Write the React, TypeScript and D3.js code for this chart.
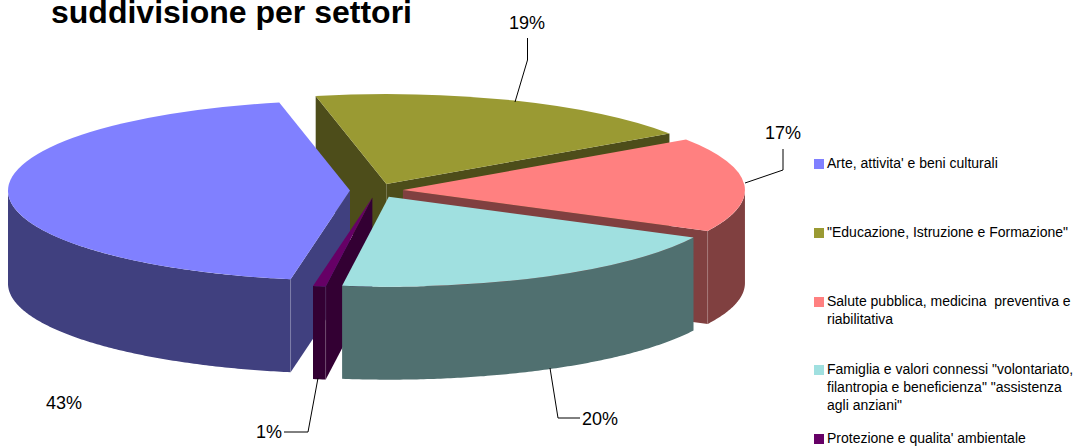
import React from 'react';
import * as d3 from 'd3';

const categories = [
  "Arte, attivita' e beni culturali",
  '"Educazione, Istruzione e Formazione"',
  'Salute pubblica, medicina  preventiva e|riabilitativa',
  'Famiglia e valori connessi "volontariato,|filantropia e beneficienza" "assistenza|agli anziani"',
  "Protezione e qualita' ambientale",
];
// shares
const shares = [43.95, 18.85, 17, 19.7, 0.6];
const percentLabels = ['43%', '19%', '17%', '20%', '1%'];
const topColors = ['#8080FF', '#9A9A33', '#FF8080', '#A0E0E0', '#660066'];
const sideColors = ['#40407F', '#4D4D1A', '#804040', '#507070', '#330033'];

const width = 1074;
const height = 447;
const cx = 376.5;
const cy = 190.5;
const rx = 342;
const ry = 90;
const depth = 93;
const explode = 26.5;
const squash = ry / rx;

// back to front
const drawOrder = [1, 2, 0, 4, 3];

const legendRows = [163, 232, 301, 369, 438];
const labelPositions: [number, number][] = [
  [64, 403],
  [527, 23],
  [783, 133],
  [600, 419],
  [269, 432],
];
const leaderLines: [number, number][][] = [
  [],
  [[515, 102], [527.5, 60], [527.5, 38]],
  [[745, 183], [783, 170], [783, 149]],
  [[550, 368], [558, 418], [580, 418]],
  [[318, 378], [308, 432], [284, 432]],
];

const pie = d3
  .pie<number>()
  .sort(null)
  .startAngle((190 * Math.PI) / 180)
  .endAngle((550 * Math.PI) / 180);

const arcs = pie(shares);
const arcPath = d3.arc<d3.PieArcDatum<number>>().innerRadius(0).outerRadius(rx);

// d3 angle: clockwise from 12 o'clock
const px = (a: number, ox: number) => ox + rx * Math.sin(a);
const py = (a: number, oy: number) => oy - ry * Math.cos(a);

const wallArea = (ox: number, oy: number) =>
  d3
    .area<number>()
    .x((a) => px(a, ox))
    .y0((a) => py(a, oy))
    .y1((a) => py(a, oy) + depth);

const linePath = d3.line();

const Slice: React.FC<{ index: number }> = ({ index }) => {
  const d = arcs[index];
  const mid = (d.startAngle + d.endAngle) / 2;
  const ox = cx + explode * Math.sin(mid);
  const oy = cy - explode * squash * Math.cos(mid);

  // outer wall only where it faces the viewer (d3 angles 90deg..270deg)
  const quarter = Math.PI / 2;
  const parts: [number, number][] = [];
  [
    [quarter, 3 * quarter],
    [5 * quarter, 7 * quarter],
  ].forEach(([lo, hi]) => {
    const a0 = Math.max(d.startAngle, lo);
    const a1 = Math.min(d.endAngle, hi);
    if (a1 > a0) parts.push([a0, a1]);
  });

  // radial cut faces, visible if the outward normal points down the screen
  const startVisible = -Math.cos(d.startAngle - quarter) > 0;
  const endVisible = -Math.cos(d.endAngle + quarter) > 0;
  const radial = (a: number) =>
    linePath([
      [ox, oy],
      [px(a, ox), py(a, oy)],
      [px(a, ox), py(a, oy) + depth],
      [ox, oy + depth],
    ]) + 'Z';
  const corner = (a: number) =>
    linePath([
      [px(a, ox), py(a, oy)],
      [px(a, ox), py(a, oy) + depth],
    ]) as string;

  return (
    <g>
      {startVisible && <path d={radial(d.startAngle)} fill={sideColors[index]} />}
      {endVisible && <path d={radial(d.endAngle)} fill={sideColors[index]} />}
      {parts.map(([a0, a1], i) => {
        const n = Math.max(2, Math.ceil((a1 - a0) / 0.01));
        const samples = d3.range(n + 1).map((k) => a0 + ((a1 - a0) * k) / n);
        return <path key={i} d={wallArea(ox, oy)(samples) as string} fill={sideColors[index]} />;
      })}
      {startVisible && parts.length > 0 && (
        <path d={corner(d.startAngle)} stroke="#fff" strokeOpacity={0.12} fill="none" />
      )}
      {endVisible && parts.length > 0 && (
        <path d={corner(d.endAngle)} stroke="#fff" strokeOpacity={0.12} fill="none" />
      )}
      <path
        d={arcPath(d) as string}
        transform={`translate(${ox},${oy}) scale(1,${squash})`}
        fill={topColors[index]}
      />
    </g>
  );
};

export default function App() {
  return (
    <svg
      width={width}
      height={height}
      viewBox={`0 0 ${width} ${height}`}
      style={{ position: 'absolute', left: 0, top: 0, background: '#fff' }}
      fontFamily="'Liberation Sans', Arial, sans-serif"
    >
      <text x={51} y={23} fontSize={32} fontWeight="bold" fill="#000">
        suddivisione per settori
      </text>

      {drawOrder.map((i) => (
        <Slice key={i} index={i} />
      ))}

      {/* leader lines */}
      {leaderLines.map((pts, i) =>
        pts.length ? (
          <path key={i} d={linePath(pts) as string} fill="none" stroke="#000" strokeWidth={1} />
        ) : null,
      )}

      {percentLabels.map((t, i) => (
        <text
          key={t}
          x={labelPositions[i][0]}
          y={labelPositions[i][1]}
          fontSize={18}
          textAnchor="middle"
          dominantBaseline="central"
          fill="#000"
        >
          {t}
        </text>
      ))}

      {/* legend */}
      {categories.map((c, i) => (
        <g key={i}>
          <rect x={814} y={legendRows[i] - 4} width={10} height={10} fill={topColors[i]} />
          {c.split('|').map((line, j) => (
            <text
              key={j}
              x={827}
              y={legendRows[i] + j * 18}
              fontSize={14}
              dominantBaseline="central"
              fill="#000"
              style={{ whiteSpace: 'pre' }}
            >
              {line}
            </text>
          ))}
        </g>
      ))}
    </svg>
  );
}
